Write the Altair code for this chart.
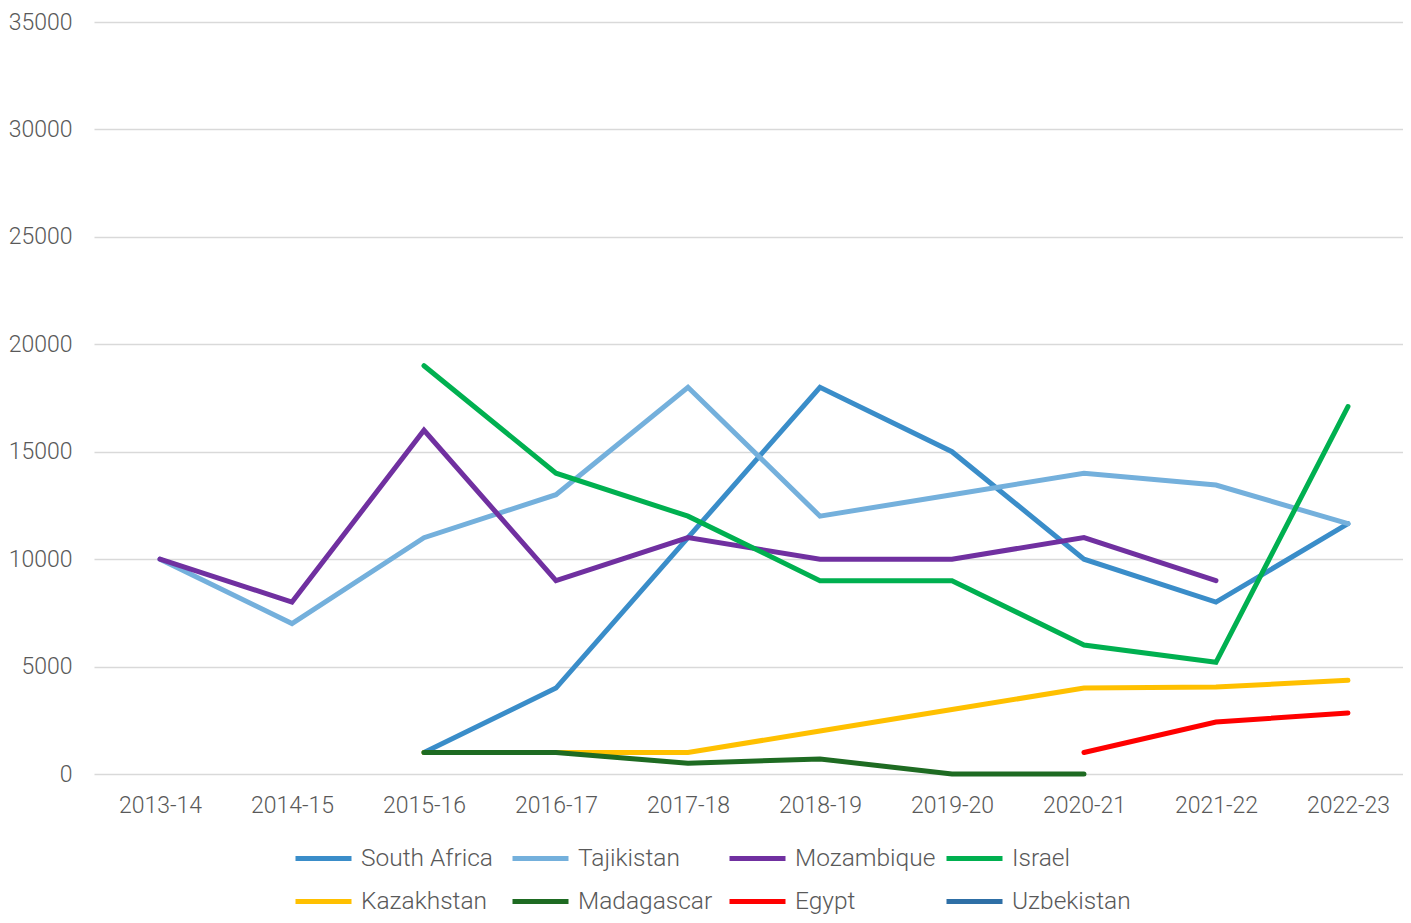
import altair as alt
import pandas as pd

years = ["2013-14", "2014-15", "2015-16", "2016-17", "2017-18",
         "2018-19", "2019-20", "2020-21", "2021-22", "2022-23"]

series_names = ["South Africa", "Tajikistan", "Mozambique", "Israel",
                "Kazakhstan", "Madagascar", "Egypt", "Uzbekistan"]
series_colors = ["#3A8DC9", "#74B0DC", "#7030A0", "#00B050",
                 "#FFC000", "#1E6B22", "#FF0000", "#2E6FA6"]

N = None
south_africa = [N, N, 1000, 4000, 11000, 18000, 15000, 10000, 8000, 11650]
tajikistan   = [10000, 7000, 11000, 13000, 18000, 12000, 13000, 14000, 13450, 11650]
mozambique   = [10000, 8000, 16000, 9000, 11000, 10000, 10000, 11000, 9000, N]
israel       = [N, N, 19000, 14000, 12000, 9000, 9000, 6000, 5200, 17100]
kazakhstan   = [N, N, 1000, 1000, 1000, 2000, 3000, 4000, 4050, 4360]
madagascar   = [N, N, 1000, 1000, 500, 700, 0, 0, N, N]
egypt        = [N, N, N, N, N, N, N, 1000, 2420, 2840]
uzbekistan   = [N, N, N, N, N, N, N, N, N, N]

all_values = [south_africa, tajikistan, mozambique, israel,
              kazakhstan, madagascar, egypt, uzbekistan]

rows = []
for name, vals in zip(series_names, all_values):
    for i, (yr, v) in enumerate(zip(years, vals)):
        if v is not None:
            rows.append({"Year": yr, "Idx": i, "Country": name, "Value": v})
df = pd.DataFrame(rows)

FONT = "Roboto"
GRAY = "#595959"
FS = 23

years_js = "[" + ",".join(f"'{y}'" for y in years) + "]"

chart = alt.Chart(df).mark_line(strokeWidth=5, strokeCap="round").encode(
    x=alt.X("Idx:Q",
            scale=alt.Scale(domain=[-0.5, 9.417], nice=False, zero=False),
            axis=alt.Axis(title=None, labelAngle=0, ticks=False, domain=False,
                          grid=False, values=list(range(len(years))),
                          labelExpr=f"{years_js}[datum.value]",
                          labelFont=FONT, labelFontSize=FS,
                          labelFontWeight=300, labelColor=GRAY,
                          labelPadding=20, labelFlush=False,
                          labelOverlap=False)),
    y=alt.Y("Value:Q",
            scale=alt.Scale(domain=[0, 35000], nice=False),
            axis=alt.Axis(title=None, values=list(range(0, 35001, 5000)),
                          format="d", ticks=False, domain=False,
                          grid=True, gridColor="#D9D9D9", gridWidth=1.5,
                          labelFont=FONT, labelFontSize=FS, labelFontWeight=300,
                          labelColor=GRAY, labelPadding=22)),
    color=alt.Color("Country:N",
                    scale=alt.Scale(domain=series_names, range=series_colors),
                    sort=series_names,
                    legend=alt.Legend(title=None, orient="none",
                                      legendX=199, legendY=806,
                                      direction="horizontal", columns=4,
                                      gridAlign="all",
                                      symbolType="stroke", symbolSize=3136,
                                      symbolStrokeWidth=5,
                                      labelFont=FONT, labelFontSize=24.5,
                                      labelFontWeight=300, labelColor=GRAY,
                                      labelOffset=7, columnPadding=0,
                                      rowPadding=1, labelLimit=300)),
    detail="Country:N",
).properties(
    width=1309, height=752,
    padding={"left": 86, "top": 14, "right": 0, "bottom": 141},
    autosize=alt.AutoSizeParams(type="none"),
).configure_view(stroke=None)

chart.save("out.html", embed_options={"renderer": "svg", "actions": False})
